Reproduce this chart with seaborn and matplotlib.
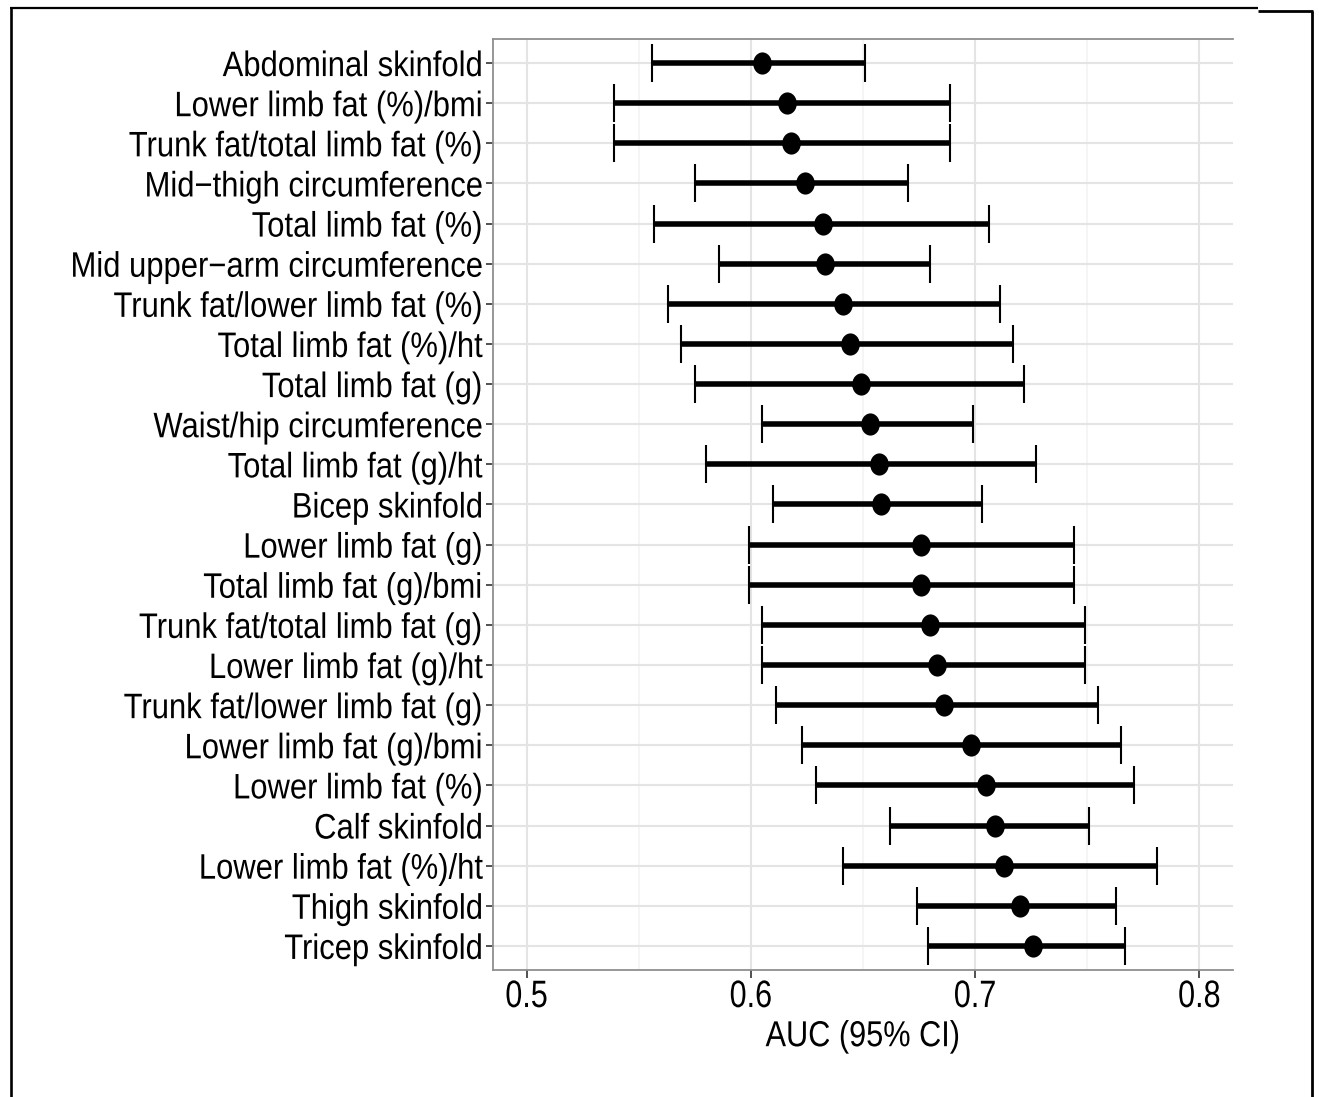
import numpy as np
import pandas as pd
import matplotlib
matplotlib.use("Agg")
import matplotlib.pyplot as plt
import seaborn as sns
from matplotlib import font_manager
from matplotlib.path import Path
from matplotlib.lines import Line2D
from matplotlib.patheffects import AbstractPathEffect
from matplotlib.transforms import Affine2D

# Anthropometric / DXA measures, ordered by AUC
measures = [
    "Abdominal skinfold",
    "Lower limb fat (%)/bmi",
    "Trunk fat/total limb fat (%)",
    "Mid\u2212thigh circumference",
    "Total limb fat (%)",
    "Mid upper\u2212arm circumference",
    "Trunk fat/lower limb fat (%)",
    "Total limb fat (%)/ht",
    "Total limb fat (g)",
    "Waist/hip circumference",
    "Total limb fat (g)/ht",
    "Bicep skinfold",
    "Lower limb fat (g)",
    "Total limb fat (g)/bmi",
    "Trunk fat/total limb fat (g)",
    "Lower limb fat (g)/ht",
    "Trunk fat/lower limb fat (g)",
    "Lower limb fat (g)/bmi",
    "Lower limb fat (%)",
    "Calf skinfold",
    "Lower limb fat (%)/ht",
    "Thigh skinfold",
    "Tricep skinfold",
]
auc = [0.605, 0.616, 0.618, 0.624, 0.632, 0.633, 0.641, 0.644, 0.649, 0.653,
       0.657, 0.658, 0.676, 0.676, 0.680, 0.683, 0.686, 0.698, 0.705, 0.709,
       0.713, 0.720, 0.726]
ci_low = [0.556, 0.539, 0.539, 0.575, 0.557, 0.586, 0.563, 0.569, 0.575, 0.605,
          0.580, 0.610, 0.599, 0.599, 0.605, 0.605, 0.611, 0.623, 0.629, 0.662,
          0.641, 0.674, 0.679]
ci_high = [0.651, 0.689, 0.689, 0.670, 0.706, 0.680, 0.711, 0.717, 0.722, 0.699,
           0.727, 0.703, 0.744, 0.744, 0.749, 0.749, 0.755, 0.765, 0.771, 0.751,
           0.781, 0.763, 0.767]
x_ticks = [0.5, 0.6, 0.7, 0.8]
x_minor = [0.55, 0.65, 0.75]

df = pd.DataFrame({"measure": measures, "auc": auc,
                   "lo": ci_low, "hi": ci_high})
df["pos"] = np.arange(len(df))

sns.set_theme(style="white")


def has_font(name):
    try:
        font_manager.findfont(name, fallback_to_default=False)
        return True
    except Exception:
        return False


class Squeeze(AbstractPathEffect):
    """Draw text horizontally condensed about its left, centre or right edge."""

    def __init__(self, sx, anchor="center"):
        super().__init__()
        self.sx = sx
        self.anchor = anchor

    def draw_path(self, renderer, gc, tpath, affine, rgbFace=None):
        ext = tpath.get_extents()
        if self.anchor == "right":
            x0 = ext.x1
        elif self.anchor == "left":
            x0 = ext.x0
        else:
            x0 = 0.5 * (ext.x0 + ext.x1)
        squeeze = Affine2D().translate(-x0, 0).scale(self.sx, 1).translate(x0, 0)
        renderer.draw_path(gc, tpath, squeeze + affine, rgbFace)


if has_font("Liberation Sans Narrow"):
    fam, narrow = "Liberation Sans Narrow", 1.0
else:
    fam, narrow = "Liberation Sans", 0.84
plt.rcParams["font.family"] = [fam, "DejaVu Sans"]

W, H = 1319, 1097
fig = plt.figure(figsize=(W / 100, H / 100), dpi=100)
ax = fig.add_axes([493 / W, 1 - 970 / H, 740 / W, 931 / H])

# confidence intervals
ax.errorbar(df["auc"], df["pos"],
            xerr=[df["auc"] - df["lo"], df["hi"] - df["auc"]],
            fmt="none", ecolor="black", elinewidth=4.0,
            capsize=13.5, capthick=1.5, zorder=3)

# point estimates (slightly narrow ellipse markers)
circ = Path.unit_circle()
ellipse = Path(circ.vertices * np.array([0.84, 1.0]), circ.codes)
sns.scatterplot(data=df, x="auc", y="pos", marker=ellipse, s=255,
                color="black", edgecolor="black", linewidth=0,
                ax=ax, zorder=4, legend=False)

ax.set_xlim(0.485, 0.815)
ax.set_ylim(len(df) - 0.4, -0.6)
ax.set_xticks(x_ticks)
ax.set_xticklabels([f"{t:.1f}" for t in x_ticks])
ax.set_xticks(x_minor, minor=True)
ax.set_yticks(df["pos"])
ax.set_yticklabels(df["measure"])

ax.grid(True, which="major", color="#e4e4e4", lw=1.5, zorder=0)
ax.grid(True, which="minor", axis="x", color="#f3f3f3", lw=1.2, zorder=0)
ax.set_axisbelow(True)

for side in ["top", "left", "bottom"]:
    ax.spines[side].set_color("#8f8f8f")
    ax.spines[side].set_linewidth(1.3)
ax.spines["right"].set_visible(False)

ax.tick_params(axis="y", which="major", length=5, width=1.2, color="#333333",
               pad=2, labelsize=25.5, labelcolor="black", left=True)
ax.tick_params(axis="x", which="major", length=6, width=1.2, color="#333333",
               pad=0.5, labelsize=27.5, labelcolor="black", bottom=True)
ax.tick_params(axis="x", which="minor", length=0)

ax.set_xlabel("AUC (95% CI)", fontsize=26, color="black", labelpad=3)
ax.set_ylabel("")

if narrow < 1.0:
    for lab in ax.get_yticklabels():
        lab.set_path_effects([Squeeze(0.875, "right")])
    for lab in ax.get_xticklabels():
        lab.set_path_effects([Squeeze(0.80, "center")])
    ax.xaxis.label.set_path_effects([Squeeze(0.85, "center")])

# surrounding frame
frame = dict(color="black", transform=fig.transFigure, solid_capstyle="butt")
fig.add_artist(Line2D([11 / W, 11 / W], [1 - 8 / H, 0], lw=1.9, **frame))
fig.add_artist(Line2D([10 / W, 1258 / W], [1 - 8 / H, 1 - 8 / H], lw=1.6, **frame))
fig.add_artist(Line2D([1258 / W, 1313 / W], [1 - 11 / H, 1 - 11 / H], lw=2.0, **frame))
fig.add_artist(Line2D([1312 / W, 1312 / W], [1 - 11 / H, 0], lw=2.0, **frame))

fig.savefig("out.png", dpi=100)
